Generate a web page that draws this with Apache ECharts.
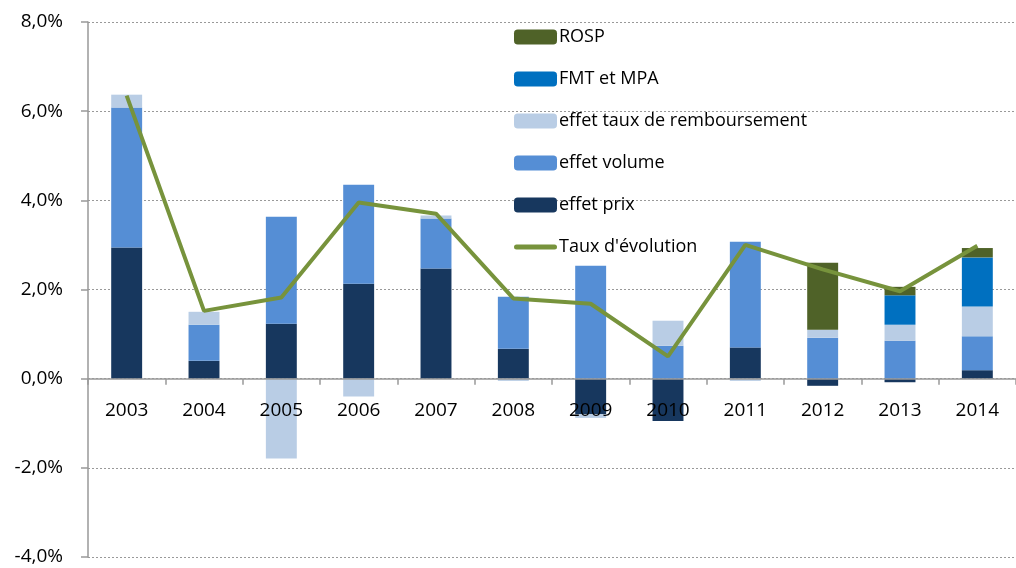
<!DOCTYPE html>
<html>
<head>
<meta charset="utf-8">
<script src="https://cdn.jsdelivr.net/npm/echarts@6/dist/echarts.min.js"></script>
<style>
  html, body { margin: 0; padding: 0; background: #fff; }
  #chart { width: 1016px; height: 568px; }
</style>
</head>
<body>
<div id="chart"></div>
<script>
// années
const annees = ['2003', '2004', '2005', '2006', '2007', '2008', '2009', '2010', '2011', '2012', '2013', '2014'];

// composantes (en %)
const effetPrix   = [2.94, 0.40, 1.23, 2.13, 2.47, 0.67, -0.80, -0.95, 0.70, -0.16, -0.08, 0.19];
const effetVolume = [3.14, 0.81, 2.40, 2.22, 1.12, 1.17, 2.53, 0.74, 2.37, 0.92, 0.85, 0.76];
const effetTaux   = [0.29, 0.29, -1.79, -0.40, 0.07, -0.05, -0.08, 0.56, -0.05, 0.18, 0.36, 0.67];
const fmtMpa      = [0, 0, 0, 0, 0, 0, 0, 0, 0, 0, 0.66, 1.10];
const rosp        = [0, 0, 0, 0, 0, 0, 0, 0, 0, 1.50, 0.19, 0.21];
const tauxEvol    = [6.35, 1.52, 1.82, 3.95, 3.70, 1.80, 1.68, 0.50, 3.00, 2.45, 1.96, 2.98];

const police = '"Open Sans", "Noto Sans", sans-serif';
const basGrille = 11;

function barre(nom, valeurs, couleur) {
    return {
        name: nom,
        type: 'bar',
        stack: 'total',
        barWidth: '40%',
        data: valeurs,
        itemStyle: { color: couleur }
    };
}

const chart = echarts.init(document.getElementById('chart'));
chart.setOption({
    animation: false,
    textStyle: { fontFamily: police },
    grid: { left: 88, right: 0, top: 22, bottom: basGrille, containLabel: false, outerBoundsMode: 'none' },
    legend: {
        orient: 'vertical',
        left: 509,
        top: 23,
        itemWidth: 43,
        itemHeight: 15,
        itemGap: 24,
        textStyle: { fontSize: 18, color: '#000', fontFamily: police, lineHeight: 18, padding: [0, 0, 0, -3] },
        data: ['ROSP', 'FMT et MPA', 'effet taux de remboursement', 'effet volume', 'effet prix',
            {
                name: "Taux d'évolution",
                icon: 'path://M2.5,0 L40.5,0 A2.5,2.5 0 0 1 40.5,5 L2.5,5 A2.5,2.5 0 0 1 2.5,0 Z',
                itemStyle: { color: '#77933C' }
            }]
    },
    xAxis: {
        type: 'category',
        data: annees,
        z: 10,
        axisLine: { onZero: false, lineStyle: { color: '#999', width: 1.5 } },
        axisTick: { show: true, length: 6, lineStyle: { color: '#999', width: 1.5 } },
        axisLabel: { fontSize: 19, color: '#000', margin: 22, fontFamily: police }
    },
    yAxis: {
        type: 'value',
        min: -4,
        max: 8,
        interval: 2,
        axisLine: { show: true, lineStyle: { color: '#999', width: 1.5 } },
        axisTick: { show: true, length: 7, lineStyle: { color: '#999', width: 1.5 } },
        axisLabel: {
            fontSize: 19, color: '#000', margin: 25, fontFamily: police,
            formatter: v => v.toFixed(1).replace('.', ',') + '%'
        },
        splitLine: { show: true, lineStyle: { color: '#999', type: [2, 2], width: 1 } }
    },
    series: [
        barre('effet prix', effetPrix, '#17375E'),
        barre('effet volume', effetVolume, '#558ED5'),
        barre('effet taux de remboursement', effetTaux, '#B9CDE5'),
        barre('FMT et MPA', fmtMpa, '#0070C0'),
        barre('ROSP', rosp, '#4F6228'),
        {
            name: "Taux d'évolution",
            type: 'line',
            data: tauxEvol,
            symbol: 'none',
            z: 5,
            lineStyle: { color: '#77933C', width: 4 },
            itemStyle: { color: '#77933C' }
        }
    ]
});

// placer l'axe des abscisses (et ses libellés) sur la ligne du zéro
const yZero = chart.convertToPixel({ yAxisIndex: 0 }, 0);
chart.setOption({ xAxis: { offset: -(568 - basGrille - yZero) } });
</script>
</body>
</html>
